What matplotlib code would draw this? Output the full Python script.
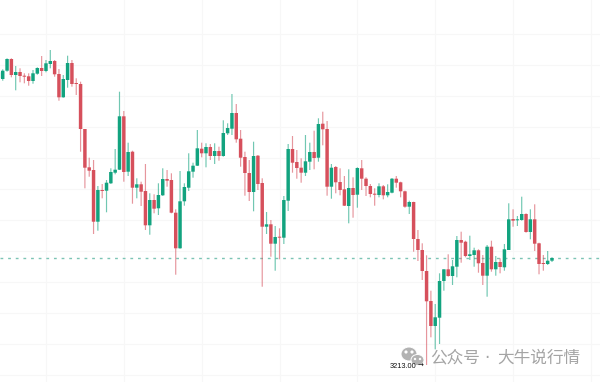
import matplotlib
matplotlib.use("Agg")
import matplotlib.pyplot as plt
import numpy as np
from matplotlib.patches import Ellipse

plt.rcParams["font.family"] = ["Noto Sans CJK SC", "DejaVu Sans"]

opens = [
    3499.7, 3499, 3507.3, 3519, 3503, 3506, 3502.3, 3501.7, 3497, 3504.3,
    3510, 3507, 3514, 3517, 3504, 3480.7, 3498, 3515, 3495, 3494,
    3449, 3410.7, 3408, 3356.3, 3388, 3387.3, 3394.7, 3405.3, 3408.3, 3461.7,
    3406.3, 3426.3, 3390.3, 3393.7, 3387, 3352.7, 3378, 3369.7, 3382.7, 3399,
    3398, 3365.3, 3329.7, 3376.7, 3390.3, 3406.3, 3412.3, 3429.3, 3424.7, 3431,
    3422, 3427, 3422, 3444.7, 3449.3, 3465, 3439.3, 3421, 3405, 3386,
    3422.3, 3395, 3351.3, 3353.7, 3334.3, 3341, 3340.3, 3377.3, 3429, 3416,
    3410.3, 3405.3, 3416.3, 3426, 3420.3, 3454.3, 3449, 3391.3, 3411, 3396,
    3388.7, 3372, 3390, 3383.3, 3409.7, 3399.3, 3392, 3384.3, 3383, 3391.7,
    3382.7, 3385.3, 3399.3, 3395.7, 3386.7, 3371.3, 3376, 3339, 3328, 3307,
    3277, 3252, 3260.3, 3297, 3308.7, 3302, 3311.3, 3338, 3336.3, 3322,
    3323, 3327.7, 3315, 3302.3, 3331.3, 3308.7, 3316, 3310.7, 3328, 3359,
    3357.7, 3358, 3364, 3346, 3358.7, 3334.7, 3314.7, 3314, 3317.3,
]
closes = [
    3505.7, 3507.3, 3519, 3503, 3506, 3502, 3501.3, 3497, 3504.7, 3510,
    3507, 3514.7, 3517, 3503.7, 3480.7, 3499, 3515, 3494, 3494, 3449,
    3410.3, 3407.3, 3356.3, 3388, 3387, 3395.3, 3406, 3408.3, 3461.7, 3406,
    3426, 3390.3, 3393.7, 3386.3, 3352.7, 3378, 3369.3, 3383, 3399, 3397.3,
    3365.3, 3329.7, 3376.7, 3391, 3406.7, 3412.3, 3429.7, 3424.7, 3431, 3422,
    3427, 3422, 3445, 3450, 3465, 3438.7, 3420.3, 3405, 3386, 3422,
    3394, 3351.3, 3353.7, 3334.3, 3341, 3340.3, 3378, 3429, 3415.3, 3410,
    3405.3, 3416.7, 3426, 3420, 3454, 3448.7, 3391.3, 3410.3, 3395.7, 3388,
    3372.3, 3390, 3383, 3410, 3399.3, 3392, 3384, 3383.3, 3391.7, 3382.7,
    3386, 3399.3, 3395.3, 3386.7, 3371.3, 3376, 3339, 3328, 3307, 3276.7,
    3252, 3260.7, 3297, 3308.7, 3302, 3311.7, 3338, 3335.3, 3322, 3323.7,
    3327.7, 3314.7, 3302.3, 3331.3, 3308.7, 3316, 3311, 3328.7, 3358.7, 3357.3,
    3358.3, 3364, 3346, 3358.7, 3334.3, 3314, 3314, 3317.3, 3320,
]
highs = [
    3507.3, 3508.7, 3519.7, 3519.7, 3512, 3509.7, 3504.7, 3504.7, 3508, 3510.7,
    3522, 3518, 3528, 3518, 3509, 3503, 3522.3, 3518, 3499.7, 3496.3,
    3449, 3420.3, 3418, 3392, 3394, 3398, 3409.7, 3429, 3486.3, 3467,
    3435.3, 3427.3, 3399.7, 3396.3, 3414, 3384.7, 3383.7, 3394.7, 3409.7, 3408,
    3404.7, 3368.7, 3407, 3394.7, 3424.7, 3415.3, 3448, 3435.3, 3434.7, 3434,
    3434.7, 3431.3, 3457.7, 3454.7, 3484, 3474, 3448, 3426.3, 3418, 3436.3,
    3423, 3399.7, 3366, 3358, 3352, 3349.7, 3382, 3434, 3442, 3428,
    3419.7, 3443, 3435.3, 3447.3, 3459.7, 3466.3, 3457, 3414, 3412, 3409.7,
    3402, 3408.7, 3400.7, 3410.7, 3418, 3400.7, 3394, 3389.7, 3394.7, 3393,
    3393.7, 3400, 3402, 3396.3, 3387.3, 3377.3, 3376.3, 3348, 3334.7, 3322.7,
    3287.3, 3274, 3304.7, 3308.7, 3323.7, 3318, 3342, 3346.3, 3337.3, 3342.3,
    3330.3, 3328.7, 3323, 3333, 3337.3, 3322, 3319.7, 3334, 3374.7, 3368.7,
    3362, 3381.3, 3364.7, 3368.7, 3373.7, 3335.3, 3323, 3327, 3320.7,
]
lows = [
    3498.7, 3497.3, 3506.3, 3500.7, 3487.7, 3495.7, 3494.7, 3492.3, 3494.3, 3503.3,
    3502, 3505.7, 3509.7, 3501.3, 3477.3, 3480.3, 3490.3, 3491.3, 3483, 3426.3,
    3389.7, 3401.3, 3344, 3347.3, 3379.7, 3365.7, 3394, 3403.7, 3408, 3396.3,
    3402, 3374.3, 3379.7, 3372, 3348, 3343.3, 3364.7, 3363, 3382, 3391.3,
    3364.7, 3303.3, 3329.3, 3372.3, 3387, 3400.3, 3412, 3420.7, 3410.7, 3418,
    3414, 3417.3, 3421.3, 3443, 3443, 3435.3, 3411.3, 3382.3, 3377, 3366.7,
    3388, 3291.3, 3344, 3321.3, 3307.3, 3318.7, 3334, 3367, 3405.3, 3399.3,
    3395.3, 3402, 3408, 3408.7, 3416.3, 3432.7, 3382.3, 3379.3, 3384.7, 3382.7,
    3372, 3354.7, 3360.3, 3370.3, 3388, 3382, 3380.7, 3372.3, 3380.7, 3378.7,
    3380.7, 3384.7, 3390.3, 3380.7, 3370.3, 3364, 3326.3, 3317, 3298, 3213,
    3240.7, 3228.7, 3234, 3287.3, 3301.3, 3293, 3300.7, 3315.3, 3320.7, 3318,
    3311.3, 3305.3, 3293, 3281.3, 3306.3, 3302.3, 3304.7, 3307.3, 3328, 3351.3,
    3352, 3357.3, 3345.3, 3338.7, 3327, 3303.7, 3307.3, 3313, 3316,
]
grid_prices = [3544, 3513, 3482, 3451, 3420, 3389, 3358, 3327, 3296, 3265, 3234, 3203]
grid_bars = [11, 29, 47, 65, 83, 101, 119, 137]
last_price = 3320
low_label = "3213.00"

GREEN = "#12A37F"
RED = "#D6505C"
GRID = "#F7F7F7"
W, H = 600, 382


def px_xy(px, py):
    return px / W, 1 - py / H


fig = plt.figure(figsize=(6.0, 3.82), dpi=100)
ax = fig.add_axes([0, 0, 1, 1])
ax.set_xlim(0.37, 139.1)
ax.set_ylim(3196, 3578)
ax.axis("off")

for y in grid_prices:
    ax.axhline(y, color=GRID, linewidth=0.8, zorder=0)
for x in grid_bars:
    ax.axvline(x, color=GRID, linewidth=0.8, zorder=0)

o = np.array(opens)
c = np.array(closes)
x = np.arange(len(o))
colors = [GREEN if b >= a else RED for a, b in zip(o, c)]

wicks = ax.vlines(x, lows, highs, colors=colors, linewidth=0.85, alpha=0.6, zorder=2)
wicks.set_snap(False)
ax.bar(x, np.maximum(np.abs(c - o), 1), bottom=np.minimum(o, c), width=0.8,
       color=colors, linewidth=0, zorder=3, snap=False)

ax.axhline(last_price, color="#7CC4B4", linewidth=1.0, linestyle=(0, (2, 3.5)), zorder=1)

# wechat logo
for px, py, w, h in [(409, 354, 16, 14), (417.5, 360, 13, 11)]:
    ax.add_patch(Ellipse(px_xy(px, py), w / W, h / H, transform=ax.transAxes,
                         facecolor="#B2B2B2", edgecolor="white", linewidth=0.7, zorder=6))
for px, py, r in [(406, 352, 1.6), (412, 352, 1.6), (415, 359, 1.2), (420, 359, 1.2)]:
    ax.add_patch(Ellipse(px_xy(px, py), 2 * r / W, 2 * r / H, transform=ax.transAxes,
                         facecolor="white", linewidth=0, zorder=7))

# watermark
for px, label in [(430, "公众号"), (497, "大牛说行情")]:
    tx, ty = px_xy(px, 358)
    ax.text(tx, ty, label, transform=ax.transAxes, ha="left", va="center",
            fontsize=12, color="#A4A4A4", zorder=6)
tx, ty = px_xy(487, 358)
ax.text(tx, ty, "·", transform=ax.transAxes, ha="center", va="center",
        fontsize=12, family="DejaVu Sans", color="#A4A4A4", zorder=6)

tx, ty = px_xy(416.5, 366)
ax.text(tx, ty, low_label, transform=ax.transAxes, ha="right", va="center",
        fontsize=5.3, family="Liberation Sans", color="#111111", zorder=8)
tx, ty = px_xy(417.5, 366)
ax.text(tx, ty, "→", transform=ax.transAxes, ha="left", va="center",
        fontsize=5, family="DejaVu Sans", color="#111111", zorder=8)

fig.savefig("out.png", dpi=100, facecolor="white")
